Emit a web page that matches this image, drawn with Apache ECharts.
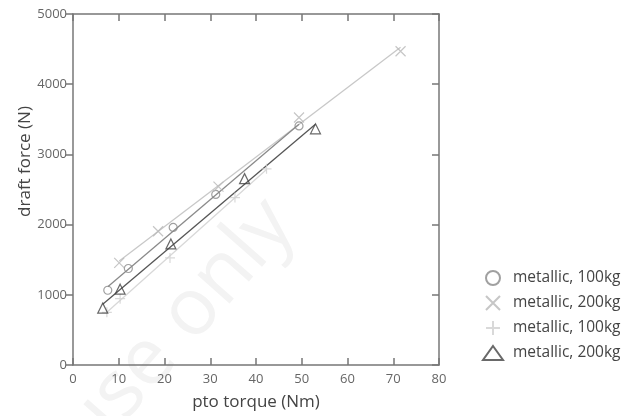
<!DOCTYPE html>
<html>
<head>
<meta charset="utf-8">
<script src="https://cdn.jsdelivr.net/npm/echarts@6/dist/echarts.min.js"></script>
<style>
html, body { margin: 0; padding: 0; background: #fff; }
#main { width: 634px; height: 416px; }
</style>
</head>
<body>
<div id="main"></div>
<script>
var legendLabels = ['metallic, 100kg', 'metallic, 200kg', 'metallic, 100kg', 'metallic, 200kg'];

// pto torque (Nm), draft force (N)
var circle100 = [[7.6, 1065], [12.1, 1375], [21.9, 1960], [31.2, 2430], [49.4, 3405]];
var cross200 = [[10.1, 1455], [18.6, 1905], [31.8, 2540], [49.4, 3525], [71.6, 4470]];
var plus100 = [[7.4, 750], [10.3, 945], [21.2, 1525], [35.4, 2385], [42.3, 2795]];
var tri200 = [[6.5, 810], [10.3, 1080], [21.4, 1725], [37.5, 2655], [53.0, 3365]];

var FONT = '"Open Sans", sans-serif';

// least squares fit line, drawn from first to last point
function fitLine(pts) {
    var n = pts.length, sx = 0, sy = 0, sxx = 0, sxy = 0;
    pts.forEach(function(p) { sx += p[0]; sy += p[1]; sxx += p[0] * p[0]; sxy += p[0] * p[1]; });
    var b = (n * sxy - sx * sy) / (n * sxx - sx * sx);
    var a = (sy - b * sx) / n;
    var x0 = pts[0][0], x1 = pts[n - 1][0];
    return [[x0, a + b * x0], [x1, a + b * x1]];
}

function lineSeries(pts, color) {
    return {
        type: 'line', data: fitLine(pts), symbol: 'none', silent: true,
        lineStyle: { color: color, width: 1.3 }, z: 1
    };
}

function scatterSeries(name, pts, symbol, size, color) {
    return {
        name: name, type: 'scatter', data: pts, symbol: symbol, symbolSize: size,
        itemStyle: { color: 'rgba(255,255,255,0)', borderColor: color, borderWidth: 1.2 },
        z: 3
    };
}

var axisLine = { onZero: false, lineStyle: { color: '#777', width: 1.5 } };
var tickIn = { inside: true, length: 7, lineStyle: { color: '#777', width: 1.5 } };
var tickOut = { inside: false, length: 7, lineStyle: { color: '#777', width: 1.5 } };

var myChart = echarts.init(document.getElementById('main'));
var option = {
    animation: false,
    backgroundColor: '#fff',
    textStyle: { fontFamily: FONT },
    grid: { left: 73, right: 195, top: 14, bottom: 49 },
    graphic: [{
        type: 'text', left: 45, top: 185, rotation: Math.PI * 0.27, z: 0, silent: true,
        style: { text: 'use only', fontSize: 80, fontFamily: FONT, fill: '#f3f3f3' }
    }],
    legend: {
        orient: 'vertical', left: 482, top: 270, itemGap: 9, padding: 0,
        itemWidth: 20, itemHeight: 14,
        data: ['a', 'b', 'c', 'd'],
        formatter: function(n) { return legendLabels['abcd'.indexOf(n)]; },
        textStyle: { fontSize: 15.5, color: '#444', fontFamily: FONT, padding: [0, 0, 0, 5] }
    },
    xAxis: [{
        type: 'value', min: 0, max: 80, interval: 10, position: 'bottom',
        name: 'pto torque (Nm)', nameLocation: 'middle', nameGap: 29,
        nameTextStyle: { fontSize: 17, color: '#444' },
        axisLine: axisLine, axisTick: tickIn, splitLine: { show: false },
        axisLabel: { fontSize: 13, color: '#666', margin: 8 }
    }, {
        type: 'value', min: 0, max: 80, interval: 10, position: 'top',
        axisLine: axisLine, axisTick: tickIn, splitLine: { show: false },
        axisLabel: { show: false }
    }],
    yAxis: [{
        type: 'value', min: 0, max: 5000, interval: 1000, position: 'left',
        name: 'draft force (N)', nameLocation: 'middle', nameGap: 39, nameMoveOverlap: false,
        nameTextStyle: { fontSize: 17, color: '#444', padding: [0, 0, 0, 56] },
        axisLine: axisLine, axisTick: tickOut, splitLine: { show: false },
        axisLabel: { fontSize: 13, color: '#666', margin: 6, formatter: function(v) { return String(v); } }
    }, {
        type: 'value', min: 0, max: 5000, interval: 1000, position: 'right',
        axisLine: axisLine, axisTick: tickIn, splitLine: { show: false },
        axisLabel: { show: false }
    }],
    series: [
        lineSeries(cross200, '#c8c8c8'),
        lineSeries(plus100, '#d8d8d8'),
        lineSeries(circle100, '#8a8a8a'),
        lineSeries(tri200, '#555'),
        scatterSeries('a', circle100, 'circle', 8, '#888'),
        scatterSeries('b', cross200, 'path://M0,0L10,10M10,0L0,10', 10, '#b8b8b8'),
        scatterSeries('c', plus100, 'path://M5,0L5,10M0,5L10,5', 10, '#d0d0d0'),
        scatterSeries('d', tri200, 'triangle', 10, '#444')
    ]
};
myChart.setOption(option);
</script>
</body>
</html>
